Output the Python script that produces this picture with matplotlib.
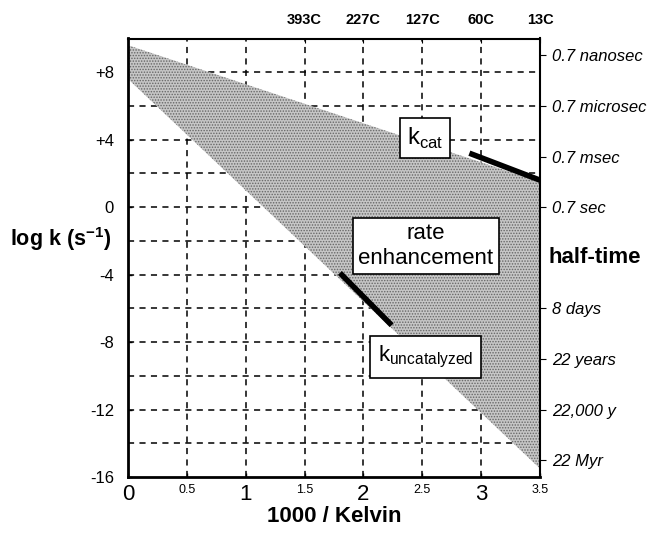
import numpy as np
import matplotlib
matplotlib.use("Agg")
import matplotlib.pyplot as plt

plt.rcParams['font.family'] = ['Liberation Sans', 'DejaVu Sans']
plt.rcParams['mathtext.fontset'] = 'custom'
plt.rcParams['mathtext.rm'] = 'Liberation Sans'
plt.rcParams['mathtext.bf'] = 'Liberation Sans:bold'
plt.rcParams['hatch.linewidth'] = 0.7

# shaded band: rate enhancement region (1000/T, log k)
band_x = [0.0, 3.5, 3.5, 0.0]
band_y = [9.6, 1.5, -15.5, 7.6]

# k_cat and k_uncatalyzed segments
kcat_x = [2.9, 3.5]
kcat_y = [3.2, 1.6]
kunc_x = [1.8, 2.24]
kunc_y = [-3.9, -7.0]

left_ticks = [8, 4, 0, -4, -8, -12, -16]
left_labels = ['+8', '+4', '0', '-4', '-8', '-12', '-16']
bottom_ticks = [0, 0.5, 1, 1.5, 2, 2.5, 3, 3.5]
bottom_labels = ['0', '0.5', '1', '1.5', '2', '2.5', '3', '3.5']
top_ticks = [1.5, 2.0, 2.5, 3.0, 3.5]
top_labels = ['393C', '227C', '127C', '60C', '13C']
right_ticks = [9, 6, 3, 0, -6, -9, -12, -15]
right_labels = ['0.7 nanosec', '0.7 microsec', '0.7 msec', '0.7 sec',
                '8 days', '22 years', '22,000 y', '22 Myr']

fig = plt.figure(figsize=(6.47, 5.46), dpi=100)
ax = fig.add_axes([128 / 647, 1 - 477 / 546, (540 - 128) / 647, (477 - 38.5) / 546])
ax.set_xlim(0, 3.5)
ax.set_ylim(-16, 10)

# dashed grid
for gx in [0.5, 1, 1.5, 2, 2.5, 3]:
    ax.axvline(gx, color='black', lw=1.1, ls=(0, (4, 3.5)), zorder=1)
for gy in range(-14, 10, 2):
    ax.axhline(gy, color='black', lw=1.1, ls=(0, (4, 3.5)), zorder=1)

ax.fill(band_x, band_y, facecolor='#c6c6c6', edgecolor='#666666', linewidth=0,
        hatch='......', zorder=2)

ax.plot(kcat_x, kcat_y, color='black', lw=4, solid_capstyle='butt', zorder=3, clip_on=False)
ax.plot(kunc_x, kunc_y, color='black', lw=4, solid_capstyle='butt', zorder=3)

box = dict(boxstyle='square,pad=0.3', facecolor='white', edgecolor='black', lw=1.2)
ax.text(2.52, 4.1, r'k$_{\rm cat}$', fontsize=17, ha='center', va='center', bbox=box, zorder=4)
ax.text(2.53, -2.3, 'rate\nenhancement', fontsize=16, ha='center', va='center',
        linespacing=1.2, bbox=dict(boxstyle='square,pad=0.25', facecolor='white',
                                   edgecolor='black', lw=1.2), zorder=4)
ax.text(2.53, -8.9, r'k$_{\rm uncatalyzed}$', fontsize=16, ha='center', va='center',
        bbox=dict(boxstyle='square,pad=0.35', facecolor='white', edgecolor='black', lw=1.2),
        zorder=4)

ax.set_yticks(left_ticks)
ax.set_yticklabels(left_labels, fontsize=12)
ax.set_xticks(bottom_ticks)
ax.set_xticklabels(bottom_labels)
for lab, v in zip(ax.get_xticklabels(), bottom_ticks):
    lab.set_fontsize(16 if float(v).is_integer() else 9)
ax.tick_params(axis='both', direction='in', length=3, width=1, pad=10)
ax.tick_params(axis='x', pad=5)

for side in ['left', 'bottom']:
    ax.spines[side].set_linewidth(2)
for side in ['top', 'right']:
    ax.spines[side].set_linewidth(1.5)

ax.set_ylabel(r'log k (s$^{\mathbf{-1}}$)', fontsize=15.5, fontweight='bold',
              rotation=0, ha='right', va='center')
ax.yaxis.set_label_coords(-0.04, (-1.9 + 16) / 26)
ax.set_xlabel('1000 / Kelvin', fontsize=16, fontweight='bold', labelpad=1)

axt = ax.twiny()
axt.set_xlim(ax.get_xlim())
axt.set_xticks(top_ticks)
axt.set_xticklabels(top_labels, fontsize=10.5, fontweight='bold')
axt.tick_params(axis='x', direction='in', length=3, pad=8)

axr = ax.twinx()
axr.set_ylim(ax.get_ylim())
axr.set_yticks(right_ticks)
axr.set_yticklabels(right_labels, fontsize=12, style='italic')
axr.tick_params(axis='y', direction='out', length=4, pad=5)
for side in ['left', 'bottom', 'top', 'right']:
    axr.spines[side].set_visible(False)
    axt.spines[side].set_visible(False)

ax.text(3.57, -3.0, 'half-time', fontsize=16, fontweight='bold', ha='left', va='center')

fig.savefig('out.png', dpi=100)
